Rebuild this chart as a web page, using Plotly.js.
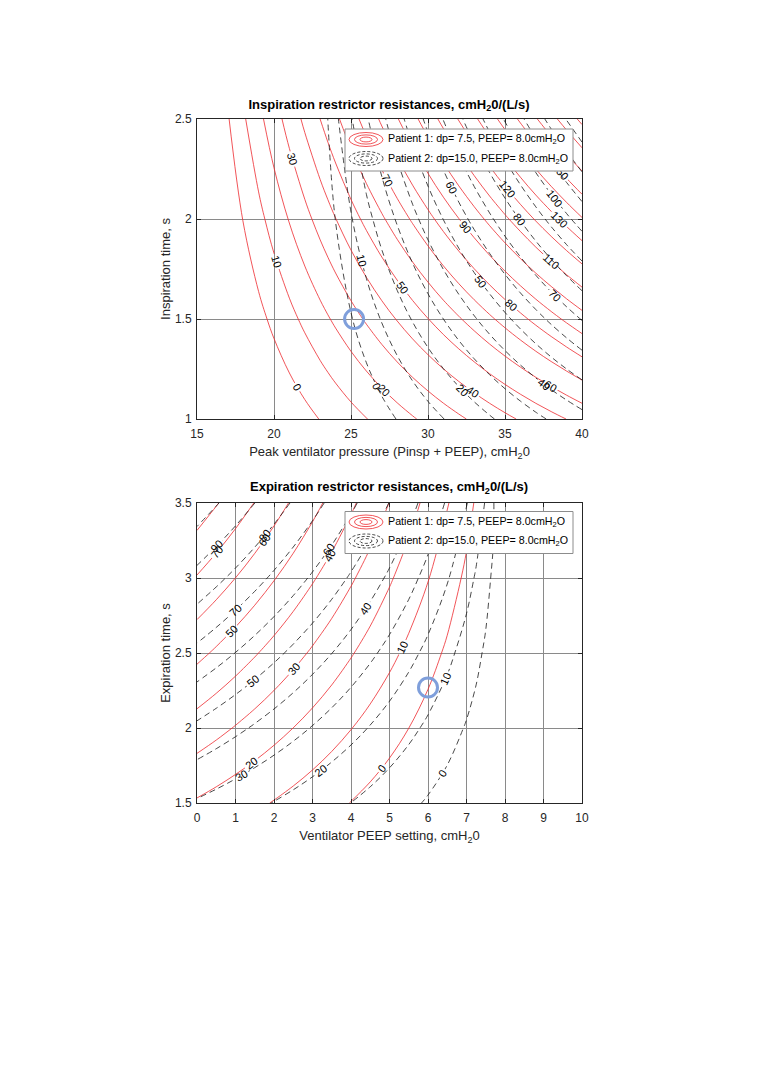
<!DOCTYPE html>
<html><head><meta charset="utf-8">
<script src="https://cdn.plot.ly/plotly-3.0.1.min.js"></script>
<style>html,body{margin:0;padding:0;background:#fff}#chart{width:761px;height:1075px}</style>
</head><body><div id="chart"></div>
<script>
// ---------- Inspiration panel data (resistance cmH2O/(L/s) on a pressure x time grid) ----------
const inspPressure = [15, 15.5, 16, 17, 18, 19, 20, 21, 22, 23, 23.5, 24, 25, 26, 27, 28, 29, 30, 31, 32, 33, 34, 35, 36, 37, 38, 39, 40];
const inspTime = [1, 1.5, 2, 2.5];
const inspR1 = [
  [-40, -32.87, -24.58, -20.04, -16.29, -12.79, -9.43, -6.15, -2.91, 0.30, 1.89, 3.48, 6.64, 9.78, 12.92, 16.04, 19.17, 22.27, 25.39, 28.48, 31.58, 34.69, 37.78, 40.86, 43.97, 47.04, 50.12, 53.23],
  [-40, -32.87, -20.43, -13.63, -8.00, -2.76, 2.29, 7.22, 12.07, 16.88, 19.27, 21.65, 26.39, 31.11, 35.81, 40.50, 45.18, 49.84, 54.52, 59.16, 63.80, 68.46, 73.10, 77.73, 82.38, 86.99, 91.62, 96.28],
  [-40, -32.87, -16.29, -7.21, 0.30, 7.28, 14.01, 20.58, 27.05, 33.47, 36.65, 39.82, 46.14, 52.43, 58.70, 64.96, 71.20, 77.42, 83.65, 89.84, 96.03, 102.24, 108.43, 114.59, 120.80, 126.94, 133.12, 139.33],
  [-40, -32.87, -12.14, -0.80, 8.59, 17.32, 25.73, 33.94, 42.03, 50.05, 54.03, 58.00, 65.90, 73.76, 81.60, 89.41, 97.22, 104.99, 112.78, 120.51, 128.25, 136.02, 143.75, 151.46, 159.22, 166.90, 174.61, 182.38]
];
const inspR2 = [
  [-40, -40, -40, -40, -40, -40, -40, -40, -40, -30.43, -18.04, -15.08, -10.55, -6.68, -3.12, 0.27, 3.54, 6.73, 9.86, 12.96, 16.01, 19.04, 22.05, 25.03, 28.01, 30.97, 33.91, 36.85],
  [-40, -40, -40, -40, -40, -40, -40, -40, -40, -30.43, -11.84, -7.41, -0.60, 5.19, 10.54, 15.61, 20.52, 25.31, 30.01, 34.65, 39.23, 43.77, 48.28, 52.76, 57.22, 61.66, 66.08, 70.49],
  [-40, -40, -40, -40, -40, -40, -40, -40, -40, -30.43, -5.65, 0.27, 9.34, 17.07, 24.19, 30.96, 37.50, 43.89, 50.16, 56.34, 62.45, 68.51, 74.52, 80.49, 86.44, 92.36, 98.25, 104.13],
  [-40, -40, -40, -40, -40, -40, -40, -40, -40, -30.43, 0.55, 7.94, 19.28, 28.94, 37.85, 46.31, 54.49, 62.47, 70.30, 78.04, 85.67, 93.24, 100.76, 108.22, 115.66, 123.06, 130.42, 137.77]
];
const inspDesignP = [25.2];
const inspDesignT = [1.5];

// ---------- Expiration panel data ----------
const expPeep = [0, 0.5, 1, 1.5, 2, 2.5, 3, 3.5, 4, 4.5, 5, 5.5, 6, 6.5, 7, 7.25, 7.5, 7.7, 7.85, 8, 9, 10];
const expTime = [1.5, 2, 2.5, 3, 3.5];
const expR1 = [
  [18.87, 16.54, 14.19, 11.84, 9.47, 7.08, 4.68, 2.25, -0.21, -2.71, -5.26, -7.88, -10.60, -13.49, -16.67, -18.49, -20.61, -22.89, -31.58, -40, -40, -40],
  [35.69, 32.58, 29.45, 26.31, 23.15, 19.97, 16.76, 13.52, 10.24, 6.91, 3.52, 0.02, -3.61, -7.46, -11.70, -14.12, -16.95, -20.00, -31.58, -40, -40, -40],
  [52.51, 48.62, 44.71, 40.78, 36.83, 32.85, 28.85, 24.80, 20.70, 16.54, 12.29, 7.92, 3.39, -1.43, -6.73, -9.76, -13.30, -17.10, -31.58, -40, -40, -40],
  [69.33, 64.65, 59.97, 55.25, 50.51, 45.74, 40.93, 36.07, 31.15, 26.16, 21.06, 15.82, 10.38, 4.61, -1.77, -5.39, -9.64, -14.21, -31.58, -40, -40, -40],
  [86.15, 80.69, 75.22, 69.72, 64.19, 58.63, 53.02, 47.35, 41.61, 35.78, 29.84, 23.72, 17.37, 10.64, 3.20, -1.03, -5.98, -11.31, -31.58, -40, -40, -40]
];
const expR2 = [
  [28.85, 26.58, 24.29, 21.98, 19.65, 17.28, 14.88, 12.44, 9.94, 7.37, 4.72, 1.95, -0.99, -4.19, -7.84, -10.00, -12.63, -15.59, -29.05, -40, -40, -40],
  [48.15, 45.12, 42.07, 38.99, 35.88, 32.73, 29.53, 26.27, 22.94, 19.52, 15.98, 12.28, 8.36, 4.10, -0.78, -3.65, -7.16, -11.11, -29.05, -40, -40, -40],
  [67.45, 63.67, 59.86, 56.01, 52.12, 48.17, 44.17, 40.10, 35.93, 31.66, 27.24, 22.62, 17.72, 12.39, 6.29, 2.70, -1.69, -6.62, -29.05, -40, -40, -40],
  [86.75, 82.21, 77.64, 73.02, 68.35, 63.62, 58.81, 53.92, 48.93, 43.80, 38.49, 32.95, 27.07, 20.68, 13.36, 9.04, 3.79, -2.13, -29.05, -40, -40, -40],
  [106.05, 100.75, 95.42, 90.03, 84.58, 79.06, 73.46, 67.75, 61.93, 55.94, 49.75, 43.29, 36.43, 28.97, 20.43, 15.39, 9.26, 2.35, -29.05, -40, -40, -40]
];
const expDesignPeep = [6.0];
const expDesignT = [2.27];

const legendLabels = ['Patient 1: dp= 7.5, PEEP= 8.0cmH<sub>2</sub>O', 'Patient 2: dp=15.0, PEEP= 8.0cmH<sub>2</sub>O'];

// ---------- styling ----------
const FONT = '"Liberation Sans", Arial, Helvetica, sans-serif';
const W = 761, H = 1075;
const px = v => v / W, py = v => 1 - v / H;
const RED = '#ee2a2f', BLK = '#1a1a1a', BLUE = '#7f9fdb';
const DASH = '6px,4px';

function contourTrace(x, y, z, xa, ya, color, dash, end) {
  return {
    type: 'contour', x: x, y: y, z: z, xaxis: xa, yaxis: ya,
    showscale: false, hoverinfo: 'skip', autocontour: false,
    contours: {coloring: 'none', start: 0, end: end, size: 10, showlabels: true,
      labelfont: {family: FONT, size: 11, color: '#000'}},
    line: {color: color, width: 0.8, dash: dash, smoothing: 1}
  };
}
function designMarker(x, y, xa, ya) {
  return {type: 'scatter', mode: 'markers', x: x, y: y, xaxis: xa, yaxis: ya, showlegend: false, hoverinfo: 'skip',
    marker: {symbol: 'circle-open', size: 19, color: BLUE, line: {width: 3, color: BLUE}}};
}

const traces = [
  contourTrace(inspPressure, inspTime, inspR1, 'x', 'y', RED, 'solid', 180),
  contourTrace(inspPressure, inspTime, inspR2, 'x', 'y', BLK, DASH, 130),
  designMarker(inspDesignP, inspDesignT, 'x', 'y'),
  contourTrace(expPeep, expTime, expR1, 'x2', 'y2', RED, 'solid', 90),
  contourTrace(expPeep, expTime, expR2, 'x2', 'y2', BLK, DASH, 110),
  designMarker(expDesignPeep, expDesignT, 'x2', 'y2')
];

const xDom = [px(197), px(582)];
function axis(extra) {
  return Object.assign({
    showline: true, mirror: 'allticks', linecolor: '#262626', linewidth: 1,
    ticks: 'inside', ticklen: 4, tickcolor: '#262626', tickwidth: 1,
    showgrid: true, gridcolor: '#8a8a8a', gridwidth: 1, zeroline: false,
    tickfont: {family: FONT, size: 12, color: '#262626'}, fixedrange: true
  }, extra);
}

function legendBox(top) {
  const shapes = [], ann = [];
  shapes.push({type: 'rect', xref: 'paper', yref: 'paper', x0: px(345), x1: px(573), y0: py(top + 42), y1: py(top),
    fillcolor: '#fff', line: {color: '#8c8c8c', width: 1}});
  const rows = [top + 10.5, top + 29.5];
  const styles = [[RED, 'solid'], [BLK, '3px,2px']];
  rows.forEach((cy, i) => {
    [[17, 7], [11.5, 4.6], [6, 2.4]].forEach(r => {
      shapes.push({type: 'circle', xref: 'paper', yref: 'paper', x0: px(366 - r[0]), x1: px(366 + r[0]),
        y0: py(cy + r[1]), y1: py(cy - r[1]), line: {color: styles[i][0], width: 0.8, dash: styles[i][1]}});
    });
    ann.push({xref: 'paper', yref: 'paper', x: px(386), y: py(cy), xanchor: 'left', yanchor: 'middle', showarrow: false,
      text: legendLabels[i], font: {family: FONT, size: 10.7, color: '#000'}});
  });
  return {shapes, ann};
}
const lg1 = legendBox(129), lg2 = legendBox(511.5);

const layout = {
  width: W, height: H, margin: {l: 0, r: 0, t: 0, b: 0},
  paper_bgcolor: '#fff', plot_bgcolor: '#fff', showlegend: false,
  title: {text: '<b>Inspiration restrictor resistances, cmH<sub>2</sub>0/(L/s)</b>', x: px(389), y: py(104),
    xanchor: 'center', yanchor: 'middle', font: {family: FONT, size: 13, color: '#000'}},
  xaxis: axis({domain: xDom, anchor: 'y', range: [15, 40], dtick: 5, tick0: 15, ticklabelstandoff: 4,
    title: {text: 'Peak ventilator pressure (Pinsp + PEEP), cmH<sub>2</sub>0', font: {family: FONT, size: 13, color: '#262626'}, standoff: 6}}),
  yaxis: axis({domain: [py(419), py(119)], anchor: 'x', range: [1, 2.5], dtick: 0.5, tick0: 1, ticklabelstandoff: 2,
    title: {text: 'Inspiration time, s', font: {family: FONT, size: 13, color: '#262626'}, standoff: 1}}),
  xaxis2: axis({domain: xDom, anchor: 'y2', range: [0, 10], dtick: 1, tick0: 0, ticklabelstandoff: 4,
    title: {text: 'Ventilator PEEP setting, cmH<sub>2</sub>0', font: {family: FONT, size: 13, color: '#262626'}, standoff: 6}}),
  yaxis2: axis({domain: [py(803), py(503)], anchor: 'x2', range: [1.5, 3.5], dtick: 0.5, tick0: 1.5, ticklabelstandoff: 2,
    title: {text: 'Expiration time, s', font: {family: FONT, size: 13, color: '#262626'}, standoff: 1}}),
  shapes: lg1.shapes.concat(lg2.shapes),
  annotations: lg1.ann.concat(lg2.ann).concat([
    {xref: 'paper', yref: 'paper', x: px(389), y: py(487), xanchor: 'center', yanchor: 'middle', showarrow: false,
     text: '<b>Expiration restrictor resistances, cmH<sub>2</sub>0/(L/s)</b>', font: {family: FONT, size: 13, color: '#000'}}
  ])
};

Plotly.newPlot('chart', traces, layout, {staticPlot: true, displayModeBar: false});
</script>
</body></html>
